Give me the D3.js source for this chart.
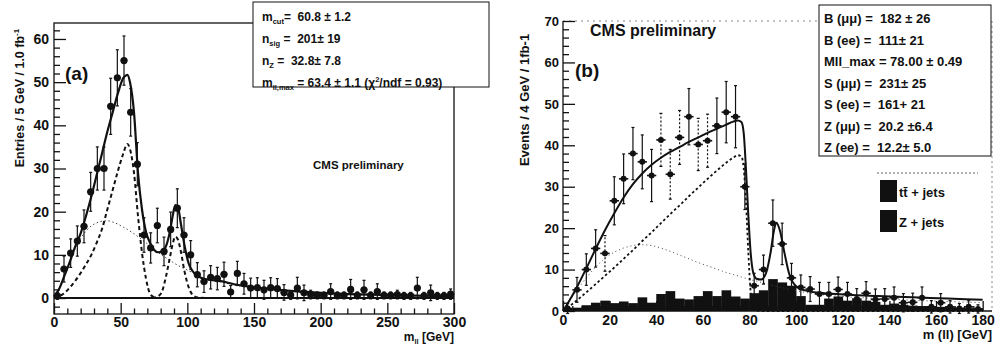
<!DOCTYPE html>
<html>
<head>
<meta charset="utf-8">
<script src="https://cdn.jsdelivr.net/npm/d3@7"></script>
<style>
  body { margin: 0; background: #fff; }
  svg text { font-family: "Liberation Sans", Arial, sans-serif; font-weight: bold; fill: #111; white-space: pre; }
</style>
</head>
<body>
<div id="chart"></div>
<script>
// ---------- panel (a): m_ll, 5 GeV bins ----------
const massA = [2.5, 7.5, 12.5, 17.5, 22.5, 27.5, 32.5, 37.5, 42.5, 47.5, 52.5, 57.5, 62.5, 67.5, 72.5,
  77.5, 82.5, 87.5, 92.5, 97.5, 102.5, 107.5, 112.5, 117.5, 122.5, 127.5, 132.5, 137.5, 142.5, 147.5,
  152.5, 157.5, 162.5, 167.5, 172.5, 177.5, 182.5, 187.5, 192.5, 197.5, 202.5, 207.5, 212.5, 217.5, 222.5,
  227.5, 232.5, 237.5, 242.5, 247.5, 252.5, 257.5, 262.5, 267.5, 272.5, 277.5, 282.5, 287.5, 292.5, 297.5];
const entriesA = [0.5, 6.7, 10.4, 13.2, 16.6, 24.6, 30, 30, 44.4, 51, 55, 43, 31, 14.6, 11.6,
  16.8, 10.8, 15.9, 20.8, 14.6, 10, 5.4, 3.8, 4.8, 4.5, 5.5, 1.4, 5.7, 3.3, 2.3,
  2.4, 1.9, 2.4, 2.2, 1.3, 0.7, 2.3, 1.2, 0.8, 0.6, 0.6, 1.5, 0.6, 0.6, 2.0,
  0.6, 1.9, 0.6, 1.5, 0.6, 0.6, 0.8, 0.5, 0.5, 2.3, 0.5, 1.2, 0.5, 0.5, 0.9];
const errorsA = [0.8, 3, 3.3, 3.5, 3.8, 4.5, 5, 5, 6.5, 6.5, 5.7, 5.5, 5, 4, 3.5,
  4, 3.3, 4, 4.5, 4, 3.3, 2.8, 2.5, 2.7, 2.6, 2.8, 1.5, 2.8, 2.4, 2.3,
  2.3, 2.2, 2.3, 2.3, 1.8, 1, 2.5, 1.8, 1, 0.8, 0.8, 1.8, 0.8, 0.8, 2.3,
  0.8, 2.2, 0.8, 1.8, 0.8, 0.8, 1, 0.8, 0.8, 2.5, 0.8, 1.8, 0.8, 0.8, 1.2];

// fit curves of (a)
const fitMassA = [0, 4, 8, 12, 16, 20, 24, 28, 32, 36, 40, 44, 48, 52, 55, 57, 60, 63, 66, 69,
  72, 75, 78, 81, 84, 87, 89, 91, 93, 95, 98, 101, 104, 108, 115, 125, 135, 150, 175, 200, 250, 300];
const fitTotalA = [0.3, 2.2, 5.3, 8.5, 12, 15, 19, 23.5, 28.5, 33.5, 38.5, 43, 47.5, 51, 51.7, 50, 43, 29, 20.5, 15.3,
  12.8, 11.2, 10.6, 10.8, 12, 15.5, 19, 21.5, 21, 17.5, 12, 8, 6.2, 5, 4.3, 3.9, 3.2, 2.5, 1.7, 1.2, 0.7, 0.4];
const fitSignalA = [0, 0.4, 1.2, 2.5, 4, 5.8, 7.8, 10, 12.8, 16, 20.5, 25, 29.5, 33.5, 35.7, 34.5, 29, 19, 10.5, 4.5,
  1, 0.2, 0, 0, 0, 0, 0, 0, 0, 0, 0, 0, 0, 0, 0, 0, 0, 0, 0, 0, 0, 0];
const fitZA = [0, 0, 0, 0, 0, 0, 0, 0, 0, 0, 0, 0, 0, 0, 0, 0, 0, 0, 0, 0,
  0, 0.1, 0.4, 1.5, 5, 9.5, 12.5, 14.2, 13.5, 11, 6, 2.5, 0.7, 0.1, 0, 0, 0, 0, 0, 0, 0, 0];
const fitBkgA = [0, 2.5, 5.5, 8.5, 11.5, 13.8, 15.5, 16.7, 17.4, 17.8, 17.9, 17.6, 17.1, 16.4, 15.9, 15.5, 14.9, 14.2, 13.5, 12.8,
  12.1, 11.3, 10.6, 9.9, 9.3, 8.7, 8.3, 7.9, 7.6, 7.2, 6.8, 6.3, 5.9, 5.0, 4.3, 3.7, 3.0, 2.4, 1.6, 1.1, 0.6, 0.35];

const legendA = [
  ["m", "cut", "=  60.8 ± 1.2"],
  ["n", "sig", " =  201± 19"],
  ["n", "Z", " =  32.8± 7.8"],
  ["m", "ll,max", " = 63.4 ± 1.1 (χ", "2", "/ndf = 0.93)"]
];

// ---------- panel (b): m(ll), 4 GeV bins ----------
const massB = [2, 6, 10, 14, 18, 22, 26, 30, 34, 38, 42, 46, 50, 54, 58, 62, 66, 70, 74, 78,
  82, 86, 90, 94, 98, 102, 106, 110, 114, 118, 122, 126, 130, 134, 138, 142, 146, 150, 154, 158,
  162, 166, 170, 174, 178];
const eventsB = [0.6, 5.1, 10, 15.1, 13.9, 26.6, 31.9, 38, 36, 32.7, 41.3, 33, 41.9, 46.9, 40.2, 41.1, 44.7, 48, 46.9, 30,
  6.1, 10, 21.2, 16.2, 8, 5.7, 5.3, 4.1, 4.1, 5.2, 4.1, 2.9, 4.3, 2.8, 2.9, 3.2, 2, 2.1, 3.2, 1,
  2, 1, 0.6, 1, 0.5];
const errorsB = [1.2, 3, 3.8, 4.5, 4.3, 5.8, 6, 6.3, 6.5, 6.3, 6.4, 6, 6.5, 6.8, 6.3, 6.4, 6.7, 7.4, 7.5, 5.5,
  3, 3.5, 5.6, 5, 3.5, 3, 3, 2.8, 2.8, 3, 2.8, 2.5, 2.8, 2.5, 2.5, 2.6, 2.2, 2.2, 2.6, 1.5,
  2.2, 1.5, 1.2, 1.5, 1];
const dottedBarsB = [18, 42, 46, 50, 58, 62];

const ttbarB = [0.6, 0.8, 1.4, 2, 2.5, 1.9, 2.3, 1.9, 3.3, 2, 4.1, 4.8, 3, 2.8, 3.6, 4.8, 3.6, 5, 3.5, 3,
  3.5, 3.5, 3.5, 3.5, 3.5, 3, 1.5, 1.5, 3, 3.5, 2.5, 2.8, 2.5, 2.2, 1.5, 1.8, 1.5, 1.3, 1.2, 1.2,
  1, 0.9, 0.8, 0.7, 0.6];
const zjetsB = [0, 0, 0, 0, 0, 0, 0, 0, 0, 0, 0, 0, 0, 0, 0, 0, 0, 0, 0, 0,
  0.8, 1.5, 4.2, 3.4, 2.6, 0.6, 0, 0, 0, 0, 0, 0, 0, 0, 0, 0, 0, 0, 0, 0,
  0, 0, 0, 0, 0];

const fitMassB = [0, 2, 6, 10, 14, 18, 22, 26, 30, 34, 38, 42, 46, 50, 54, 58, 62, 66, 70, 73,
  75, 76.5, 77.5, 78.5, 79.5, 80.5, 81.5, 83, 85, 87, 89, 90.5, 91.5, 93, 95, 97, 100, 105, 110, 120,
  135, 150, 165, 180];
const fitTotalB = [0, 1.8, 5.8, 10.3, 15, 19.5, 23.6, 27.4, 30.6, 33.2, 35.3, 37, 38.4, 39.6, 40.8, 41.9, 43, 44, 45, 45.7,
  46, 45.6, 43, 34, 23, 14, 9.5, 7.8, 7.6, 9, 14, 19.5, 21.3, 19.5, 14, 9, 6, 4.8, 4.4, 4,
  3.6, 3.3, 3, 2.7];
const fitSignalB = [0, 0.8, 2.6, 4.5, 6.5, 8.5, 10.5, 12.6, 14.7, 16.9, 19, 21.2, 23.4, 25.5, 27.7, 29.8, 31.9, 33.9, 35.8, 37,
  37.6, 37.3, 34.5, 26, 14, 4.5, 1, 0.1, 0, 0, 0, 0, 0, 0, 0, 0, 0, 0, 0, 0,
  0, 0, 0, 0];
const fitBkgB = [0, 1.8, 5, 8, 10.6, 12.7, 14.2, 15.2, 15.8, 16, 15.8, 15.2, 14.4, 13.5, 12.6, 11.7, 10.9, 10.1, 9.3, 8.8,
  8.5, 8.2, 8, 7.9, 7.7, 7.6, 7.4, 7.2, 6.9, 6.6, 6.3, 6.1, 6, 5.8, 5.5, 5.2, 4.9, 4.4, 4, 3.5,
  3, 2.6, 2.3, 2];

const legendB = ["B (μμ) =  182 ± 26", "B (ee) =  111± 21", "Mll_max = 78.00 ± 0.49", "S (μμ) =  231± 25",
  "S (ee) =  161+ 21", "Z (μμ) =  20.2 ±6.4", "Z (ee) =  12.2± 5.0"];
const histLegendB = ["tt̄ + jets", "Z + jets"];

// ---------- drawing ----------
const svg = d3.select("#chart").append("svg")
  .attr("width", 1004).attr("height", 347)
  .style("background", "#fff");

const ink = "#111";

function axes(x, y, p) {
  const bottom = y.range()[0], left = x.range()[0];
  const gx = svg.append("g").attr("transform", "translate(0," + bottom + ")")
    .call(d3.axisBottom(x).tickValues(p.xMajor).tickSizeInner(-p.xLen).tickSizeOuter(0).tickPadding(p.xPad).tickFormat(d3.format("d")));
  gx.append("g").call(d3.axisBottom(x).tickValues(p.xMinor).tickSizeInner(-p.xLen / 2).tickSizeOuter(0).tickFormat(""));
  const gy = svg.append("g").attr("transform", "translate(" + left + ",0)")
    .call(d3.axisLeft(y).tickValues(p.yMajor).tickSizeInner(-12).tickSizeOuter(0).tickPadding(p.yPad).tickFormat(d3.format("d")));
  gy.append("g").call(d3.axisLeft(y).tickValues(p.yMinor).tickSizeInner(-6).tickSizeOuter(0).tickFormat(""));
  [gx, gy].forEach(g => {
    g.selectAll(".domain").remove();
    g.selectAll("line").attr("stroke", ink).attr("stroke-width", 1.3);
    g.attr("font-family", null).attr("font-size", null);
  });
  gx.selectAll("text").style("font-size", p.xFont + "px");
  gy.selectAll("text").style("font-size", p.yFont + "px");
}

function curve(x, y, xs, ys, style) {
  const line = d3.line().x(d => x(d[0])).y(d => y(d[1])).curve(d3.curveMonotoneX);
  svg.append("path")
    .attr("d", line(xs.map((m, i) => [m, ys[i]])))
    .attr("fill", "none")
    .attr("stroke", style.color || ink)
    .attr("stroke-width", style.width)
    .attr("stroke-dasharray", style.dash || null);
}

function points(x, y, mass, vals, errs, halfBin, r, dotted) {
  const pts = mass.map((m, i) => ({ m: m, v: vals[i], e: errs[i], dot: dotted.includes(m) }));
  const g = svg.append("g").attr("stroke", ink).attr("stroke-width", 1.2);
  g.selectAll(".ev").data(pts).join("line")
    .attr("x1", d => x(d.m)).attr("x2", d => x(d.m))
    .attr("y1", d => y(d.v - d.e)).attr("y2", d => y(d.v + d.e))
    .attr("stroke-dasharray", d => d.dot ? "2,2" : null);
  g.selectAll(".cap").data(pts.flatMap(d => [{ m: d.m, v: d.v + d.e }, { m: d.m, v: d.v - d.e }])).join("line")
    .attr("x1", d => x(d.m) - 1.5).attr("x2", d => x(d.m) + 1.5)
    .attr("y1", d => y(d.v)).attr("y2", d => y(d.v));
  g.selectAll(".eh").data(pts).join("line")
    .attr("x1", d => x(d.m - halfBin)).attr("x2", d => x(d.m + halfBin))
    .attr("y1", d => y(d.v)).attr("y2", d => y(d.v))
    .attr("stroke-width", 1.6);
  g.selectAll("circle").data(pts).join("circle")
    .attr("cx", d => x(d.m)).attr("cy", d => y(d.v)).attr("r", r)
    .attr("fill", ink).attr("stroke", "none");
}

// ===== panel (a) =====
const xA = d3.scaleLinear().domain([0, 300]).range([54, 454]);
const yA = d3.scaleLinear().domain([-3.7, 63.7]).range([314, 23]);

svg.append("rect").attr("x", 54).attr("y", 23).attr("width", 400).attr("height", 291)
  .attr("fill", "none").attr("stroke", ink).attr("stroke-width", 1.3);

axes(xA, yA, {
  xMajor: [0, 50, 100, 150, 200, 250, 300], xMinor: d3.range(10, 300, 10).filter(v => v % 50),
  xLen: 11, xPad: 3, xFont: 14,
  yMajor: [0, 10, 20, 30, 40, 50, 60], yMinor: d3.range(-2, 63, 2).filter(v => v % 10),
  yPad: 5, yFont: 14
});

svg.append("line").attr("x1", xA(0)).attr("x2", xA(300)).attr("y1", yA(0)).attr("y2", yA(0))
  .attr("stroke", ink).attr("stroke-width", 2);
curve(xA, yA, fitMassA, fitBkgA, { width: 1, dash: "1.5,2.5", color: "#444" });
curve(xA, yA, fitMassA, fitSignalA, { width: 2, dash: "4,3" });
curve(xA, yA, fitMassA, fitZA, { width: 2, dash: "4,3" });
curve(xA, yA, fitMassA, fitTotalA, { width: 2.2 });
points(xA, yA, massA, entriesA, errorsA, 2.5, 3.6, []);

svg.append("text").attr("x", 65).attr("y", 80).style("font-size", "19px").text("(a)");
svg.append("text").attr("x", 313).attr("y", 169).style("font-size", "11.5px").text("CMS preliminary");

const ylabA = svg.append("text").attr("transform", "translate(24,98) rotate(-90)")
  .attr("text-anchor", "middle").style("font-size", "12.5px");
ylabA.append("tspan").text("Entries / 5 GeV / 1.0 fb");
ylabA.append("tspan").attr("dy", -5).style("font-size", "8px").text("-1");

const xlabA = svg.append("text").attr("x", 454).attr("y", 341).attr("text-anchor", "end").style("font-size", "12px");
xlabA.append("tspan").text("m");
xlabA.append("tspan").attr("dy", 3).style("font-size", "7.5px").text("ll");
xlabA.append("tspan").attr("dy", -3).text(" [GeV]");

// legend box (a)
svg.append("rect").attr("x", 253).attr("y", 2).attr("width", 236).attr("height", 85)
  .attr("fill", "#fff").attr("stroke", ink).attr("stroke-width", 1);
legendA.forEach((row, i) => {
  const t = svg.append("text").attr("x", 262).attr("y", 21 + i * 22).style("font-size", "12px");
  t.append("tspan").text(row[0]);
  t.append("tspan").attr("dy", 3).style("font-size", "7.5px").text(row[1]);
  t.append("tspan").attr("dy", -3).text(row[2]);
  if (row.length > 3) {
    t.append("tspan").attr("dy", -5).style("font-size", "7.5px").text(row[3]);
    t.append("tspan").attr("dy", 5).text(row[4]);
  }
});

// ===== panel (b) =====
const xB = d3.scaleLinear().domain([0, 184]).range([563, 992]);
const yB = d3.scaleLinear().domain([0, 70]).range([311, 21]);

svg.append("line").attr("x1", 563).attr("x2", 992).attr("y1", 21).attr("y2", 21)
  .attr("stroke", "#888").attr("stroke-dasharray", "2,4");
svg.append("line").attr("x1", 992).attr("x2", 992).attr("y1", 21).attr("y2", 311)
  .attr("stroke", "#888").attr("stroke-dasharray", "2,3");

// stacked histograms (t tbar + Z), both black
const hist = massB.map((m, i) => ({ m: m, tt: ttbarB[i], z: zjetsB[i] }));
svg.append("g").selectAll("rect").data(hist).join("rect")
  .attr("x", d => xB(d.m - 2)).attr("width", d => xB(d.m + 2) - xB(d.m - 2) + 0.3)
  .attr("y", d => yB(d.tt + d.z)).attr("height", d => yB(0) - yB(d.tt + d.z))
  .attr("fill", ink);

axes(xB, yB, {
  xMajor: [0, 20, 40, 60, 80, 100, 120, 140, 160, 180], xMinor: d3.range(4, 184, 4).filter(v => v % 20),
  xLen: 10, xPad: 4, xFont: 14,
  yMajor: [0, 10, 20, 30, 40, 50, 60, 70], yMinor: d3.range(2, 70, 2).filter(v => v % 10),
  yPad: 4, yFont: 13
});
svg.append("line").attr("x1", 563).attr("x2", 563).attr("y1", 21).attr("y2", 311).attr("stroke", ink).attr("stroke-width", 1.3);
svg.append("line").attr("x1", 563).attr("x2", 992).attr("y1", 311).attr("y2", 311).attr("stroke", ink).attr("stroke-width", 1.3);

curve(xB, yB, fitMassB, fitBkgB, { width: 1, dash: "1,3", color: "#444" });
curve(xB, yB, fitMassB, fitSignalB, { width: 1.8, dash: "2.5,2.5" });
curve(xB, yB, fitMassB, fitTotalB, { width: 2 });
points(xB, yB, massB, eventsB, errorsB, 2, 3, dottedBarsB);

svg.append("text").attr("x", 575).attr("y", 77).style("font-size", "19px").text("(b)");
svg.append("text").attr("x", 590).attr("y", 36).style("font-size", "16px").text("CMS preliminary");
svg.append("text").attr("transform", "translate(529,100) rotate(-90)")
  .attr("text-anchor", "middle").style("font-size", "13px").text("Events / 4 GeV / 1fb-1");
svg.append("text").attr("x", 992).attr("y", 339).attr("text-anchor", "end").style("font-size", "13px").text("m (ll) [GeV]");

// legend box (b)
svg.append("rect").attr("x", 819).attr("y", 5).attr("width", 172).attr("height", 151)
  .attr("fill", "#fff").attr("stroke", ink).attr("stroke-width", 1);
legendB.forEach((s, i) => {
  svg.append("text").attr("x", 824).attr("y", 23 + i * 21.5).style("font-size", "13px").text(s);
});
svg.append("line").attr("x1", 877).attr("x2", 978).attr("y1", 173).attr("y2", 173)
  .attr("stroke", "#666").attr("stroke-dasharray", "2,2");
histLegendB.forEach((s, i) => {
  svg.append("rect").attr("x", 880).attr("y", 180 + i * 30).attr("width", 17).attr("height", 22).attr("fill", ink);
  svg.append("text").attr("x", 899).attr("y", 197 + i * 30).style("font-size", "13px").text(s);
});
</script>
</body>
</html>
